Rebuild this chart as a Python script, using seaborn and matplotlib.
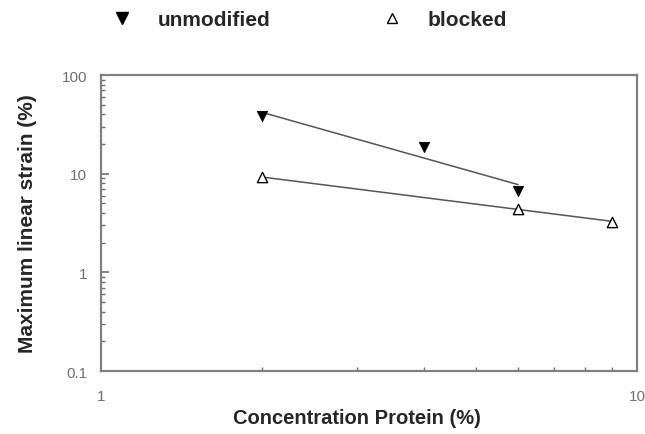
import numpy as np
import pandas as pd
import matplotlib
matplotlib.use("Agg")
import matplotlib.pyplot as plt
import seaborn as sns
from matplotlib.lines import Line2D
from matplotlib.ticker import LogLocator, NullFormatter, FixedFormatter, FixedLocator

sns.set_style("white")
plt.rcParams['font.family'] = ['Liberation Sans', 'DejaVu Sans']

# data
conc_unmod = [2.0, 4.0, 6.0]
strain_unmod = [38.0, 18.6, 6.6]
conc_block = [2.0, 6.0, 9.0]
strain_block = [9.2, 4.4, 3.25]

x_ticks = [1, 10]
y_ticks = [0.1, 1, 10, 100]
y_labels = ["0.1", "1", "10", "100"]


def power_fit(x, y):
    # straight line in log-log space
    b, a = np.polyfit(np.log10(x), np.log10(y), 1)
    xs = np.array([min(x), max(x)])
    return pd.DataFrame({"x": xs, "y": 10 ** (a + b * np.log10(xs))})


fig = plt.figure(figsize=(6.45, 4.35), dpi=100)
ax = fig.add_axes([101 / 645, 1 - 372 / 435, 536 / 645, 296 / 435])

fit_u = power_fit(conc_unmod, strain_unmod)
fit_b = power_fit(conc_block, strain_block)
sns.lineplot(data=fit_u, x="x", y="y", ax=ax, color="#555555", lw=1.1)
sns.lineplot(data=fit_b, x="x", y="y", ax=ax, color="#555555", lw=1.1)

sns.scatterplot(x=conc_unmod, y=strain_unmod, ax=ax, marker="v", s=55,
                color="black", edgecolor="black", zorder=3)
sns.scatterplot(x=conc_block, y=strain_block, ax=ax, marker="^", s=55,
                facecolor="white", edgecolor="black", linewidth=1.0, zorder=3)

ax.set_xscale("log")
ax.set_yscale("log")
ax.set_xlim(1, 10)
ax.set_ylim(0.1, 100)

ax.xaxis.set_major_locator(FixedLocator(x_ticks))
ax.xaxis.set_major_formatter(FixedFormatter(["1", "10"]))
ax.xaxis.set_minor_locator(LogLocator(base=10, subs=np.arange(2, 10)))
ax.xaxis.set_minor_formatter(NullFormatter())
ax.yaxis.set_major_locator(FixedLocator(y_ticks))
ax.yaxis.set_major_formatter(FixedFormatter(y_labels))
ax.yaxis.set_minor_locator(LogLocator(base=10, subs=np.arange(2, 10)))
ax.yaxis.set_minor_formatter(NullFormatter())

ax.tick_params(which="both", direction="in", colors="#707070", labelcolor="#707070",
               labelsize=11, top=False, right=False, left=True, bottom=True)
ax.tick_params(which="major", length=6, width=1.2)
ax.tick_params(which="minor", length=3, width=1.0)
ax.tick_params(axis="x", pad=13)
ax.tick_params(axis="y", pad=10)

for sp in ax.spines.values():
    sp.set_color("#808080")
    sp.set_linewidth(1.6)
    sp.set_visible(True)

ax.set_xlabel("Concentration Protein (%)", fontsize=14.5, fontweight="bold")
ax.xaxis.set_label_coords(0.478, -0.125)
ax.set_ylabel("Maximum linear strain (%)", fontsize=15, fontweight="bold", labelpad=18)

handles = [
    Line2D([], [], ls="none", marker="v", color="black", markersize=8),
    Line2D([], [], ls="none", marker="^", markerfacecolor="white",
           markeredgecolor="black", markersize=6.5),
]
fig.legend(handles, ["unmodified", "blocked"], ncol=2, frameon=False,
           loc="center left", bbox_to_anchor=(111.6 / 645, 1 - 21 / 435),
           prop={"weight": "bold", "size": 15}, handletextpad=1.23,
           columnspacing=5.3, handlelength=1.0, borderpad=0, borderaxespad=0)

fig.savefig("out.png", dpi=100)
